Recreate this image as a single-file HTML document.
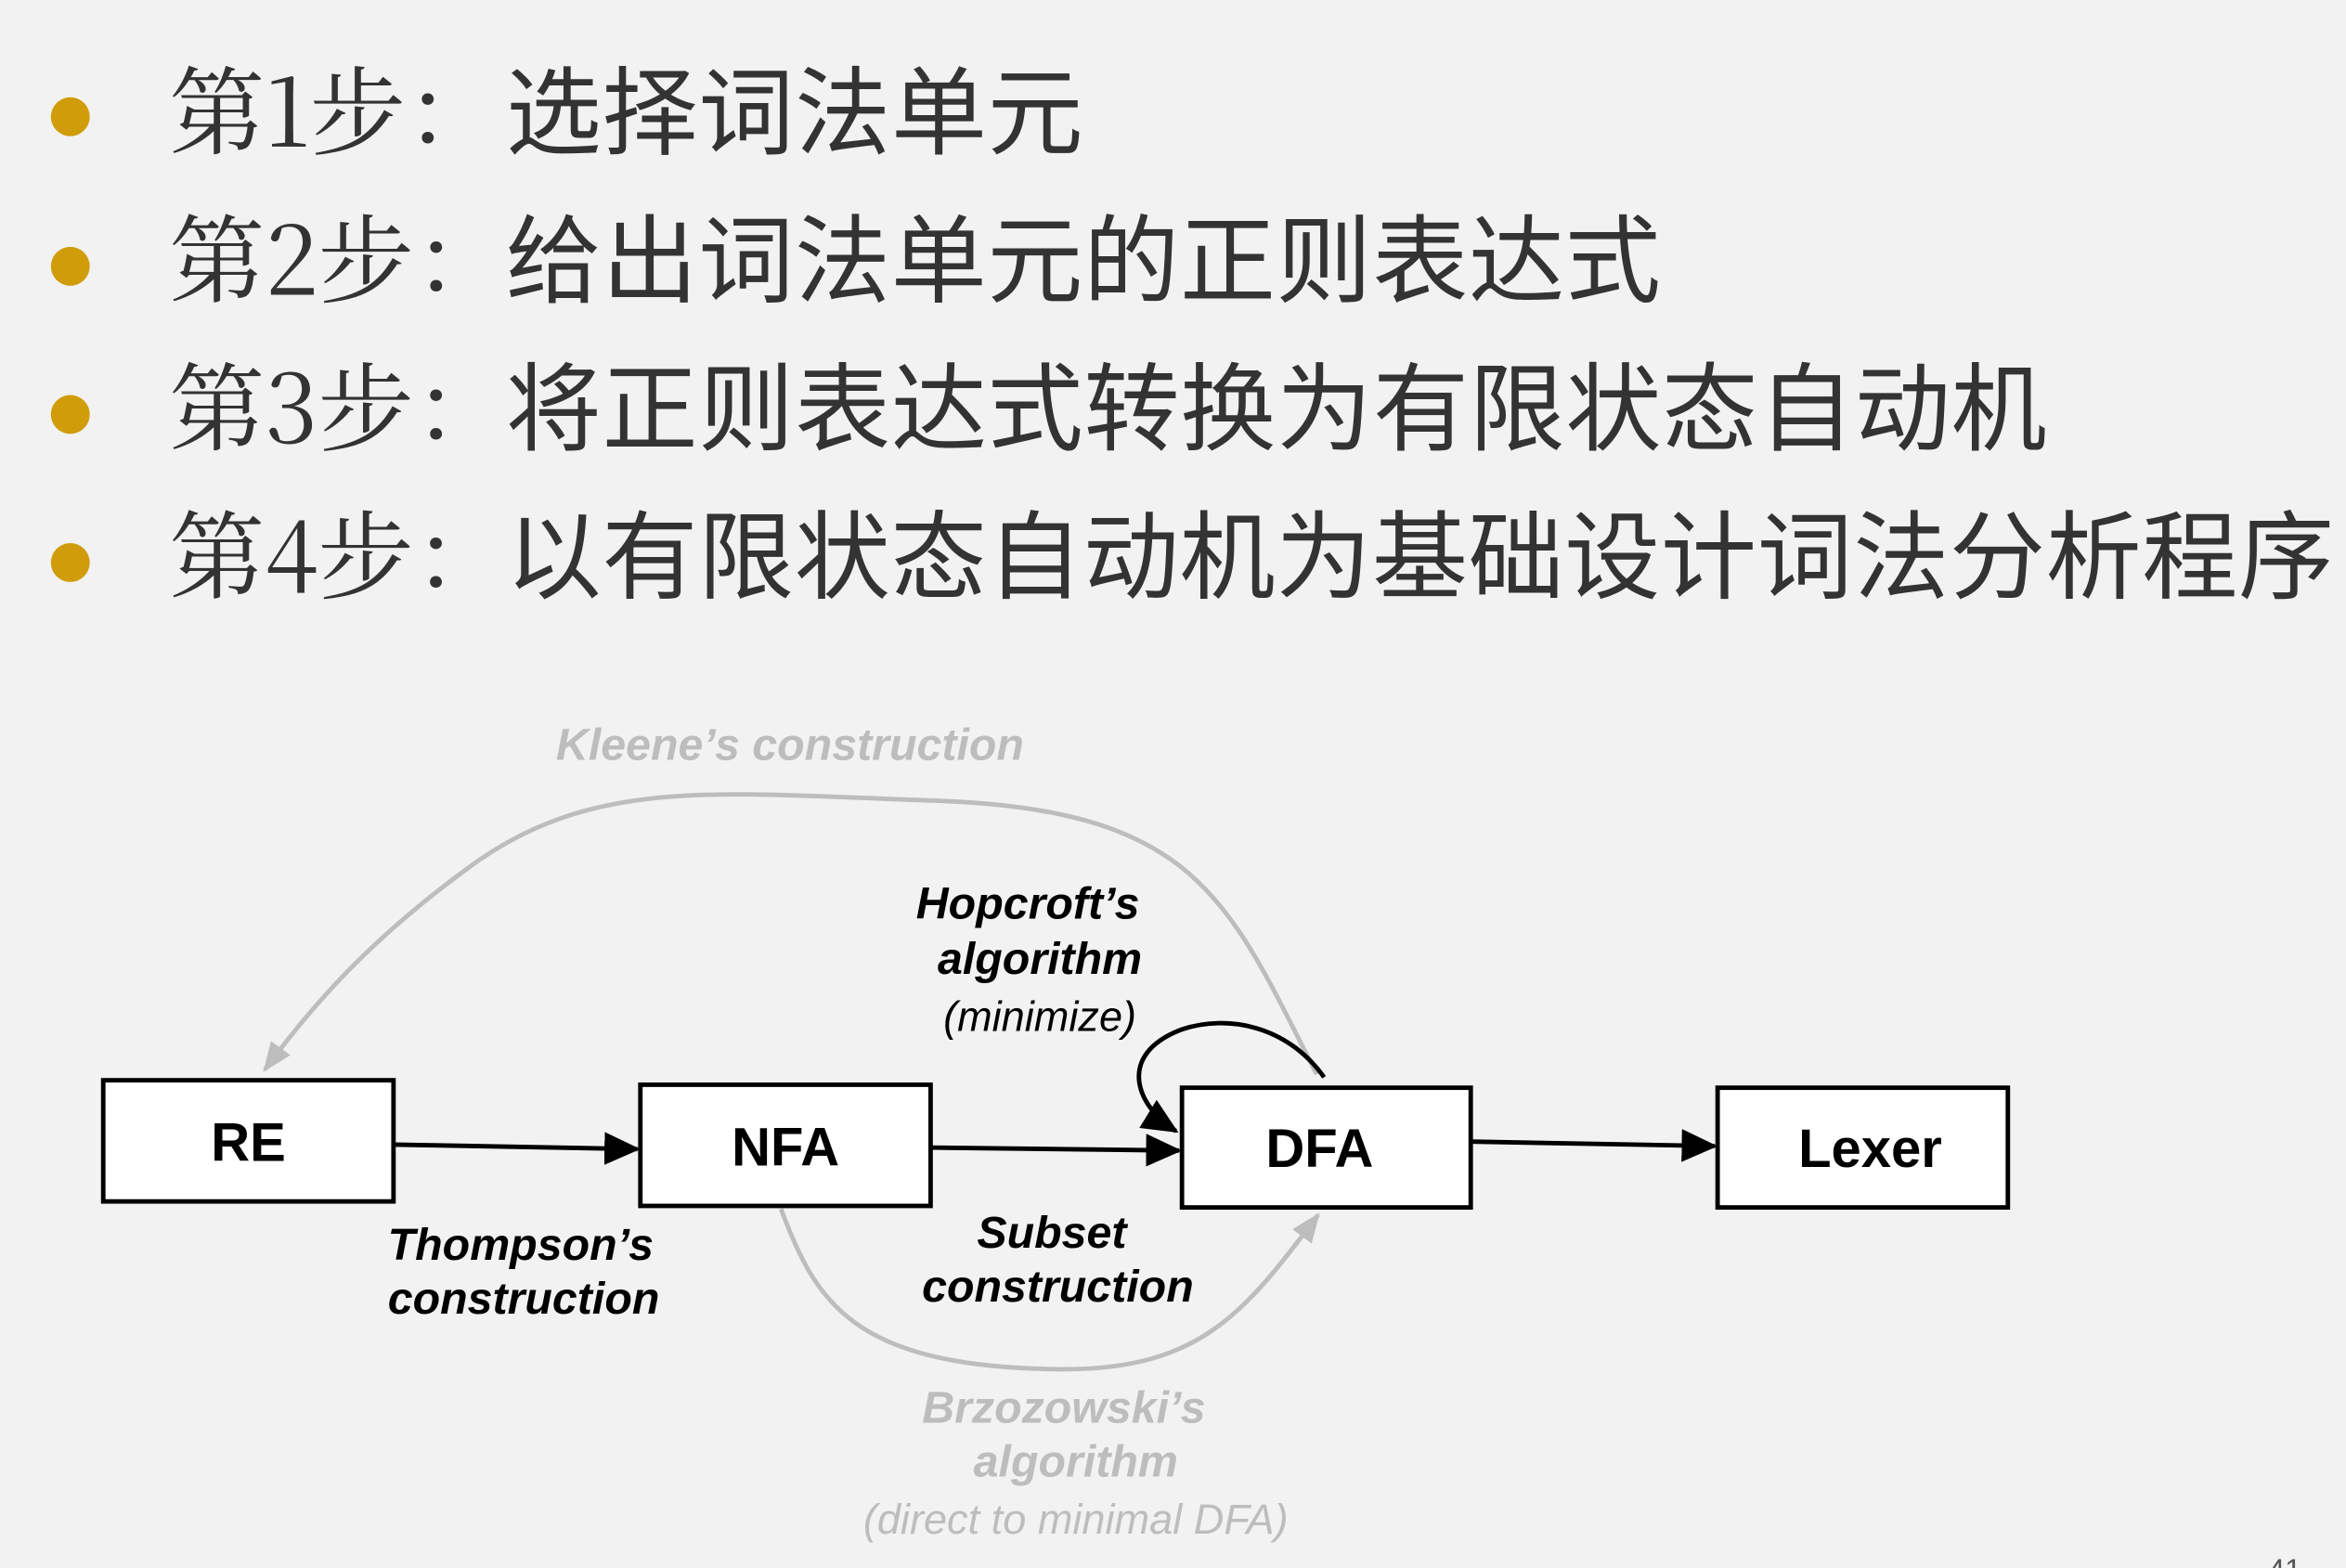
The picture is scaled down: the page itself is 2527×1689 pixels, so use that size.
<!DOCTYPE html>
<html><head><meta charset="utf-8"><style>
html,body{margin:0;padding:0;background:#f2f2f2;}
svg{display:block;}
</style></head><body>
<svg width="2527" height="1689" viewBox="0 0 1568 1048" preserveAspectRatio="none" xmlns="http://www.w3.org/2000/svg">
<defs>
<marker id="ag" markerWidth="20" markerHeight="20" refX="18" refY="10" orient="auto" markerUnits="userSpaceOnUse" viewBox="0 0 20 20"><path d="M0,2 L20,10 L0,18 z" fill="#bdbdbd"/></marker>
<marker id="abk" markerWidth="24" markerHeight="22" refX="22" refY="11" orient="auto" markerUnits="userSpaceOnUse" viewBox="0 0 24 22"><path d="M0,0 L24,11 L0,22 z" fill="#000"/></marker>
</defs>
<rect width="1568" height="1048" fill="#f2f2f2"/>
<g fill="#d09c0a">
<circle cx="47" cy="78" r="13"/><circle cx="47" cy="178" r="13"/><circle cx="47" cy="277" r="13"/><circle cx="47" cy="376" r="13"/>
</g>
<g fill="#333" font-size="64">
<g font-family="'Noto Serif CJK SC',serif">
<text x="113" y="98">第1步：</text>
<text x="113" y="197">第2步：</text>
<text x="113" y="296">第3步：</text>
<text x="113" y="395">第4步：</text>
</g>
<g font-family="'Noto Sans CJK SC',sans-serif">
<text x="338" y="98" textLength="386">选择词法单元</text>
<text x="338" y="197" textLength="772">给出词法单元的正则表达式</text>
<text x="338" y="296" textLength="1030">将正则表达式转换为有限状态自动机</text>
<text x="338" y="395" textLength="1222">以有限状态自动机为基础设计词法分析程序</text>
</g>
</g>
<path d="M880,718 C820,600 800,540 620,535 C480,530 400,520 320,575 C250,625 210,670 177,715" fill="none" stroke="#bdbdbd" stroke-width="3" marker-end="url(#ag)"/>
<path d="M522,808 C545,870 570,912 700,915 C800,918 830,880 881,812" fill="none" stroke="#bdbdbd" stroke-width="3" marker-end="url(#ag)"/>
<g fill="#fff" stroke="#000" stroke-width="3">
<rect x="69" y="722" width="194" height="81"/>
<rect x="428" y="725" width="194" height="81"/>
<rect x="790" y="727" width="193" height="80"/>
<rect x="1148" y="727" width="194" height="80"/>
</g>
<g font-family="'Liberation Sans',sans-serif" font-weight="bold" font-size="36" text-anchor="middle" fill="#000">
<text x="166" y="776">RE</text>
<text x="525" y="779">NFA</text>
<text x="882" y="780">DFA</text>
<text x="1250" y="780">Lexer</text>
</g>
<g stroke="#000" stroke-width="3" fill="none">
<line x1="263" y1="765" x2="426" y2="768" marker-end="url(#abk)"/>
<line x1="622" y1="767" x2="788" y2="769" marker-end="url(#abk)"/>
<line x1="983" y1="763" x2="1146" y2="766" marker-end="url(#abk)"/>
<path d="M885,720 C860,685 820,678 790,688 C745,705 760,740 786,756" marker-end="url(#abk)"/>
</g>
<g font-family="'Liberation Sans',sans-serif" font-style="italic" font-size="30" text-anchor="middle">
<g font-weight="bold" fill="#000">
<text x="687" y="614">Hopcroft’s</text>
<text x="695" y="651">algorithm</text>
<text x="348" y="842">Thompson’s</text>
<text x="350" y="878">construction</text>
<text x="703" y="834">Subset</text>
<text x="707" y="870">construction</text>
</g>
<text x="695" y="689" fill="#000" font-size="28">(minimize)</text>
<g font-weight="bold" fill="#bdbdbd">
<text x="528" y="508">Kleene’s construction</text>
<text x="711" y="951">Brzozowski’s</text>
<text x="719" y="987">algorithm</text>
</g>
<text x="719" y="1025" fill="#bdbdbd" font-size="28">(direct to minimal DFA)</text>
</g>
<text x="1516" y="1056" font-family="'Liberation Sans',sans-serif" font-size="20" fill="#555">41</text>
</svg>
</body></html>
